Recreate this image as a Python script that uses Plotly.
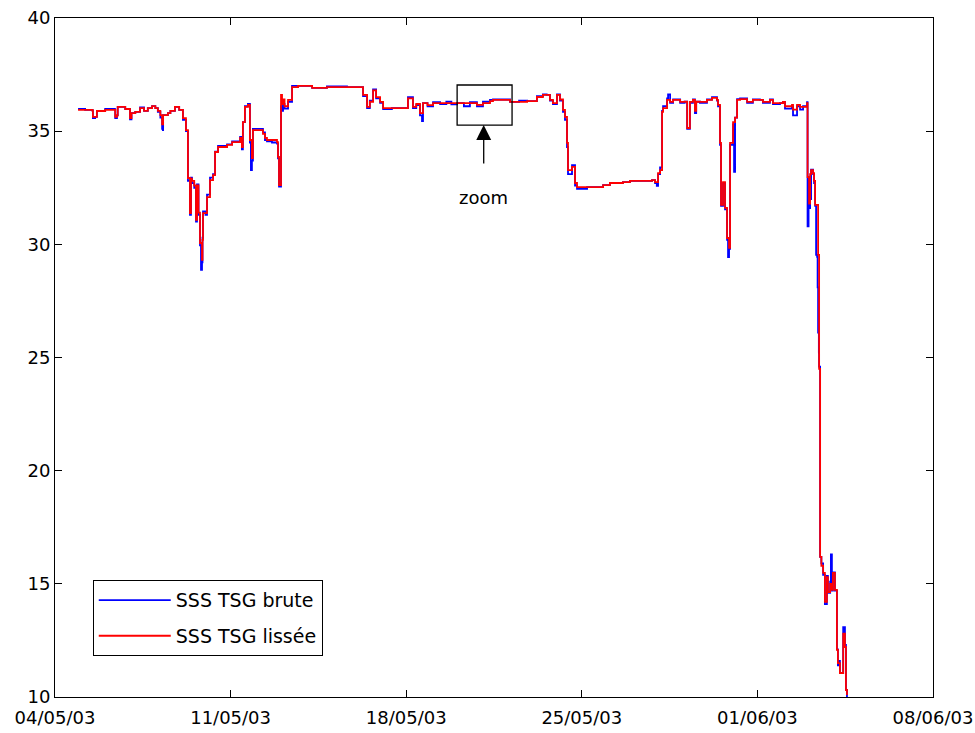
import pandas as pd
import plotly.graph_objects as go

START = pd.Timestamp("2003-05-04")

# Smoothed series (days since 04/05/03, salinity)
red_t = [0.92, 1.20, 1.50, 1.51, 1.60, 1.67, 2.00, 2.39, 2.40, 2.47, 2.50, 2.80, 2.99, 3.05, 3.20,
         3.39, 3.55, 3.70, 3.87, 4.00, 4.10, 4.20, 4.27, 4.31, 4.50, 4.60, 4.78, 4.95, 5.10, 5.22,
         5.30, 5.38, 5.42, 5.46, 5.55, 5.62, 5.66, 5.72, 5.78, 5.86, 5.88, 5.90, 6.00, 6.06, 6.18,
         6.30, 6.38, 6.50, 6.86, 7.06, 7.38, 7.45, 7.49, 7.57, 7.69, 7.77, 7.85, 7.89, 8.29, 8.37,
         8.45, 8.65, 8.85, 8.89, 8.93, 9.01, 9.05, 9.09, 9.15, 9.29, 9.45, 9.69, 10.25, 10.84, 11.64,
         12.16, 12.28, 12.44, 12.55, 12.68, 12.80, 12.96, 13.08, 13.43, 13.87, 14.07, 14.27, 14.40,
         14.55, 14.67, 14.85, 15.07, 15.35, 16.03, 16.54, 16.82, 17.06, 17.34, 17.46, 18.14, 18.82,
         19.21, 19.45, 19.60, 19.73, 19.85, 20.01, 20.13, 20.25, 20.33, 20.41, 20.45, 20.61, 20.73,
         20.81, 21.21, 21.85, 22.12, 22.64, 22.92, 23.40, 23.80, 23.92, 24.04, 24.12, 24.20, 24.24,
         24.40, 24.52, 24.64, 24.92, 25.10, 25.20, 25.31, 25.43, 25.51, 25.56, 25.71, 25.99, 26.19,
         26.39, 26.43, 26.51, 26.55, 26.63, 26.71, 26.79, 26.87, 26.91, 27.03, 27.11, 27.19, 27.31,
         27.59, 27.82, 28.10, 28.22, 28.50, 28.62, 28.90, 29.02, 29.10, 29.38, 29.42, 29.58, 29.70,
         29.82, 29.98, 30.00, 30.06, 30.10, 30.14, 30.22, 30.26, 30.30, 30.42, 30.46, 30.50, 30.55,
         30.62, 30.69, 30.77, 30.81, 30.90, 30.97, 31.01, 31.09, 31.17, 31.21, 31.29, 31.41, 31.42,
         31.49, 31.53, 31.57]
red_v = [35.94, 35.94, 35.90, 35.63, 35.63, 35.89, 35.94, 35.94, 35.63, 35.70, 36.07, 35.98, 35.58, 35.80, 35.85,
         36.02, 35.90, 36.02, 36.11, 36.02, 35.90, 35.71, 35.30, 35.71, 35.80, 35.90, 36.07, 35.94, 35.58, 35.05,
         32.93, 31.38, 32.90, 32.80, 32.60, 31.08, 32.60, 31.40, 30.06, 29.31, 30.20, 31.38, 31.38, 32.09, 32.84,
         33.06, 34.08, 34.30, 34.39, 34.52, 34.70, 34.30, 35.40, 36.07, 36.16, 34.61, 33.81, 35.05, 34.88, 34.70,
         34.61, 34.61, 34.52, 33.86, 32.62, 36.60, 36.20, 36.40, 36.10, 36.38, 36.95, 37.00, 36.91, 36.95, 36.95,
         36.95, 36.60, 36.07, 36.30, 36.80, 36.50, 36.29, 36.02, 36.02, 36.02, 36.45, 36.07, 36.20,
         35.80, 36.24, 36.15, 36.24, 36.24, 36.24, 36.24, 36.16, 36.24, 36.33, 36.38, 36.29, 36.33,
         36.51, 36.60, 36.60, 36.38, 36.24, 36.60, 36.40, 35.94, 35.63, 34.48, 33.28, 33.42, 32.71,
         32.53, 32.53, 32.62, 32.71, 32.75, 32.80, 32.80, 32.84, 32.75, 33.15, 33.28, 35.85, 36.02,
         36.38, 36.29, 36.38, 36.29, 36.30, 35.14, 36.29, 36.38, 35.90, 36.30, 36.29, 36.38, 36.47,
         36.38, 36.16, 34.48, 31.74, 32.75, 31.61, 30.28, 29.84, 34.48, 35.40, 35.60, 36.38, 36.42,
         36.29, 36.38, 36.38, 36.29, 36.38, 36.24, 36.24, 36.29, 36.10, 36.16, 35.95, 36.16, 36.07,
         36.07, 36.24, 32.97, 31.80, 33.10, 33.28, 33.15, 32.80, 31.74, 29.53, 24.50, 16.19, 15.80,
         15.48, 14.20, 15.30, 14.64, 15.00, 14.73, 15.48, 14.73, 12.08, 11.50, 11.06, 11.06, 12.80,
         12.21, 10.31, 10.09]

# Raw series
blue_t = [0.92, 1.20, 1.50, 1.51, 1.60, 1.67, 2.00, 2.39, 2.40, 2.47, 2.50, 2.80, 2.99, 3.05, 3.20,
          3.39, 3.55, 3.70, 3.87, 4.00, 4.10, 4.20, 4.27, 4.30, 4.31, 4.50, 4.60, 4.78, 4.95, 5.10,
          5.22, 5.30, 5.38, 5.42, 5.46, 5.55, 5.62, 5.66, 5.72, 5.78, 5.82, 5.86, 5.88, 5.90, 6.00,
          6.06, 6.18, 6.30, 6.38, 6.50, 6.86, 7.06, 7.38, 7.45, 7.49, 7.57, 7.69, 7.77, 7.81, 7.85,
          7.89, 8.29, 8.37, 8.45, 8.65, 8.85, 8.89, 8.93, 9.01, 9.05, 9.09, 9.15, 9.29, 9.45, 9.69,
          10.25, 10.84, 11.64, 12.16, 12.28, 12.44, 12.55, 12.68, 12.80, 12.96, 13.08, 13.43, 13.87,
          14.07, 14.27, 14.40, 14.55, 14.63, 14.67, 14.85, 15.07, 15.35, 15.60, 15.80, 16.03, 16.30,
          16.54, 16.82, 17.06, 17.34, 17.46, 18.14, 18.50, 18.82, 19.21, 19.45, 19.60, 19.73, 19.85,
          20.01, 20.13, 20.25, 20.33, 20.41, 20.45, 20.61, 20.73, 20.81, 21.21, 21.85, 22.12, 22.64,
          22.92, 23.40, 23.80, 23.92, 23.99, 24.04, 24.12, 24.20, 24.24, 24.40, 24.44, 24.52, 24.64,
          24.92, 25.10, 25.20, 25.31, 25.43, 25.51, 25.56, 25.71, 25.99, 26.19, 26.39, 26.43, 26.51,
          26.55, 26.63, 26.71, 26.79, 26.83, 26.87, 26.91, 27.03, 27.07, 27.11, 27.19, 27.31, 27.59,
          27.82, 28.10, 28.22, 28.50, 28.62, 28.90, 29.02, 29.10, 29.38, 29.42, 29.58, 29.70, 29.82,
          29.98, 30.00, 30.04, 30.06, 30.10, 30.14, 30.22, 30.26, 30.30, 30.34, 30.38, 30.40, 30.42,
          30.43, 30.45, 30.46, 30.50, 30.55, 30.62, 30.69, 30.77, 30.81, 30.90, 30.93, 30.97, 31.01,
          31.09, 31.17, 31.21, 31.25, 31.29, 31.41, 31.42, 31.49, 31.53, 31.57]
blue_v = [35.98, 35.94, 35.90, 35.58, 35.63, 35.89, 35.98, 35.94, 35.58, 35.70, 36.07, 35.98, 35.52, 35.80, 35.85,
          36.05, 35.90, 36.02, 36.11, 36.02, 35.85, 35.60, 35.10, 35.05, 35.71, 35.80, 35.90, 36.07, 35.94, 35.50,
          35.00, 32.80, 31.30, 32.95, 32.70, 32.50, 31.00, 32.65, 31.30, 29.95, 28.87, 29.20, 30.30, 31.45, 31.30,
          32.20, 32.95, 33.10, 34.10, 34.35, 34.42, 34.55, 34.75, 34.20, 35.40, 36.10, 36.20, 34.50, 33.28, 33.70,
          35.10, 34.95, 34.60, 34.55, 34.50, 34.45, 33.80, 32.55, 36.10, 35.90, 36.20, 36.00, 36.30, 37.00, 37.00,
          36.91, 36.98, 36.95, 36.95, 36.55, 36.02, 36.35, 36.85, 36.45, 36.25, 35.98, 36.02, 36.02,
          36.50, 36.02, 36.15, 35.70, 35.45, 36.24, 36.10, 36.28, 36.20, 36.30, 36.18, 36.24, 36.10,
          36.28, 36.10, 36.30, 36.38, 36.40, 36.29, 36.35, 36.33, 36.55, 36.62, 36.60, 36.35, 36.20,
          36.62, 36.35, 35.85, 35.50, 34.30, 33.10, 33.50, 32.60, 32.45, 32.53, 32.62, 32.71, 32.75,
          32.80, 32.80, 32.84, 32.70, 32.58, 33.10, 33.40, 35.90, 36.10, 36.45, 36.62, 36.25, 36.40,
          36.25, 36.30, 35.10, 36.25, 36.40, 35.80, 36.30, 36.25, 36.40, 36.50, 36.35, 36.10, 34.40,
          31.70, 32.70, 31.55, 30.20, 29.44, 29.80, 34.40, 35.30, 33.20, 35.60, 36.42, 36.45, 36.25,
          36.40, 36.38, 36.25, 36.40, 36.20, 36.24, 36.29, 36.00, 36.10, 35.70, 36.10, 35.95, 36.10,
          36.28, 30.80, 32.97, 31.60, 32.00, 33.30, 33.10, 32.70, 31.70, 29.53, 29.45, 28.10, 26.10,
          28.00, 25.20, 24.60, 16.19, 15.90, 15.40, 14.10, 15.35, 14.60, 15.10, 16.30, 14.70, 15.50,
          14.70, 12.10, 11.40, 11.60, 11.06, 11.06, 13.09, 12.30, 10.31, 10.00]

tick_days = [0, 7, 14, 21, 28, 35]
y_ticks = [10, 15, 20, 25, 30, 35, 40]

red_x = [START + pd.Timedelta(days=d) for d in red_t]
blue_x = [START + pd.Timedelta(days=d) for d in blue_t]
tick_x = [START + pd.Timedelta(days=d) for d in tick_days]
tick_text = [t.strftime("%d/%m/%y") for t in tick_x]

FONT = "DejaVu Sans, Liberation Sans, Arial, sans-serif"

fig = go.Figure()
fig.add_trace(go.Scatter(x=blue_x, y=blue_v, mode="lines", name="SSS TSG brute",
                         legendgroup="a", line=dict(color="#0000ff", width=1.8, shape="hv")))
fig.add_trace(go.Scatter(x=red_x, y=red_v, mode="lines", name="SSS TSG lissée",
                         legendgroup="b", line=dict(color="#ff0000", width=1.8, shape="hv")))

# zoom box and arrow
box_x0 = START + pd.Timedelta(days=16.03)
box_x1 = START + pd.Timedelta(days=18.22)
arrow_x = START + pd.Timedelta(days=17.09)
fig.add_shape(type="rect", xref="x", yref="y", x0=box_x0, x1=box_x1, y0=35.27, y1=37.04,
              line=dict(color="black", width=1.3))
fig.add_annotation(x=arrow_x, y=35.27, xref="x", yref="y", ax=0, ay=40, axref="pixel", ayref="pixel",
                   showarrow=True, arrowhead=2, arrowsize=2.3, arrowwidth=1.3, arrowcolor="black", text="")
fig.add_annotation(x=arrow_x, y=32.09, xref="x", yref="y", text="zoom", showarrow=False,
                   font=dict(family=FONT, size=18, color="black"))

fig.update_layout(
    width=975, height=733,
    margin=dict(l=55, r=42, t=18, b=36, autoexpand=False),
    paper_bgcolor="white", plot_bgcolor="white",
    font=dict(family=FONT, size=18, color="black"),
    showlegend=True,
    legend=dict(x=0.043, y=0.172, xanchor="left", yanchor="top",
                bgcolor="white", bordercolor="black", borderwidth=1,
                font=dict(family=FONT, size=19, color="black"),
                itemwidth=72, tracegroupgap=8, traceorder="grouped"),
    xaxis=dict(range=[tick_x[0], tick_x[-1]], tickmode="array", tickvals=tick_x, ticktext=tick_text,
               ticks="inside", ticklen=7, tickcolor="black", showline=True, linecolor="black",
               linewidth=1, mirror="ticks", showgrid=False, zeroline=False, ticklabelstandoff=4,
               automargin=False, tickfont=dict(family=FONT, size=18, color="black")),
    yaxis=dict(range=[10, 40], tickmode="array", tickvals=y_ticks,
               ticks="inside", ticklen=7, tickcolor="black", showline=True, linecolor="black",
               linewidth=1, mirror="ticks", showgrid=False, zeroline=False, automargin=False,
               tickfont=dict(family=FONT, size=18, color="black")),
)

fig.write_html("out.html")
